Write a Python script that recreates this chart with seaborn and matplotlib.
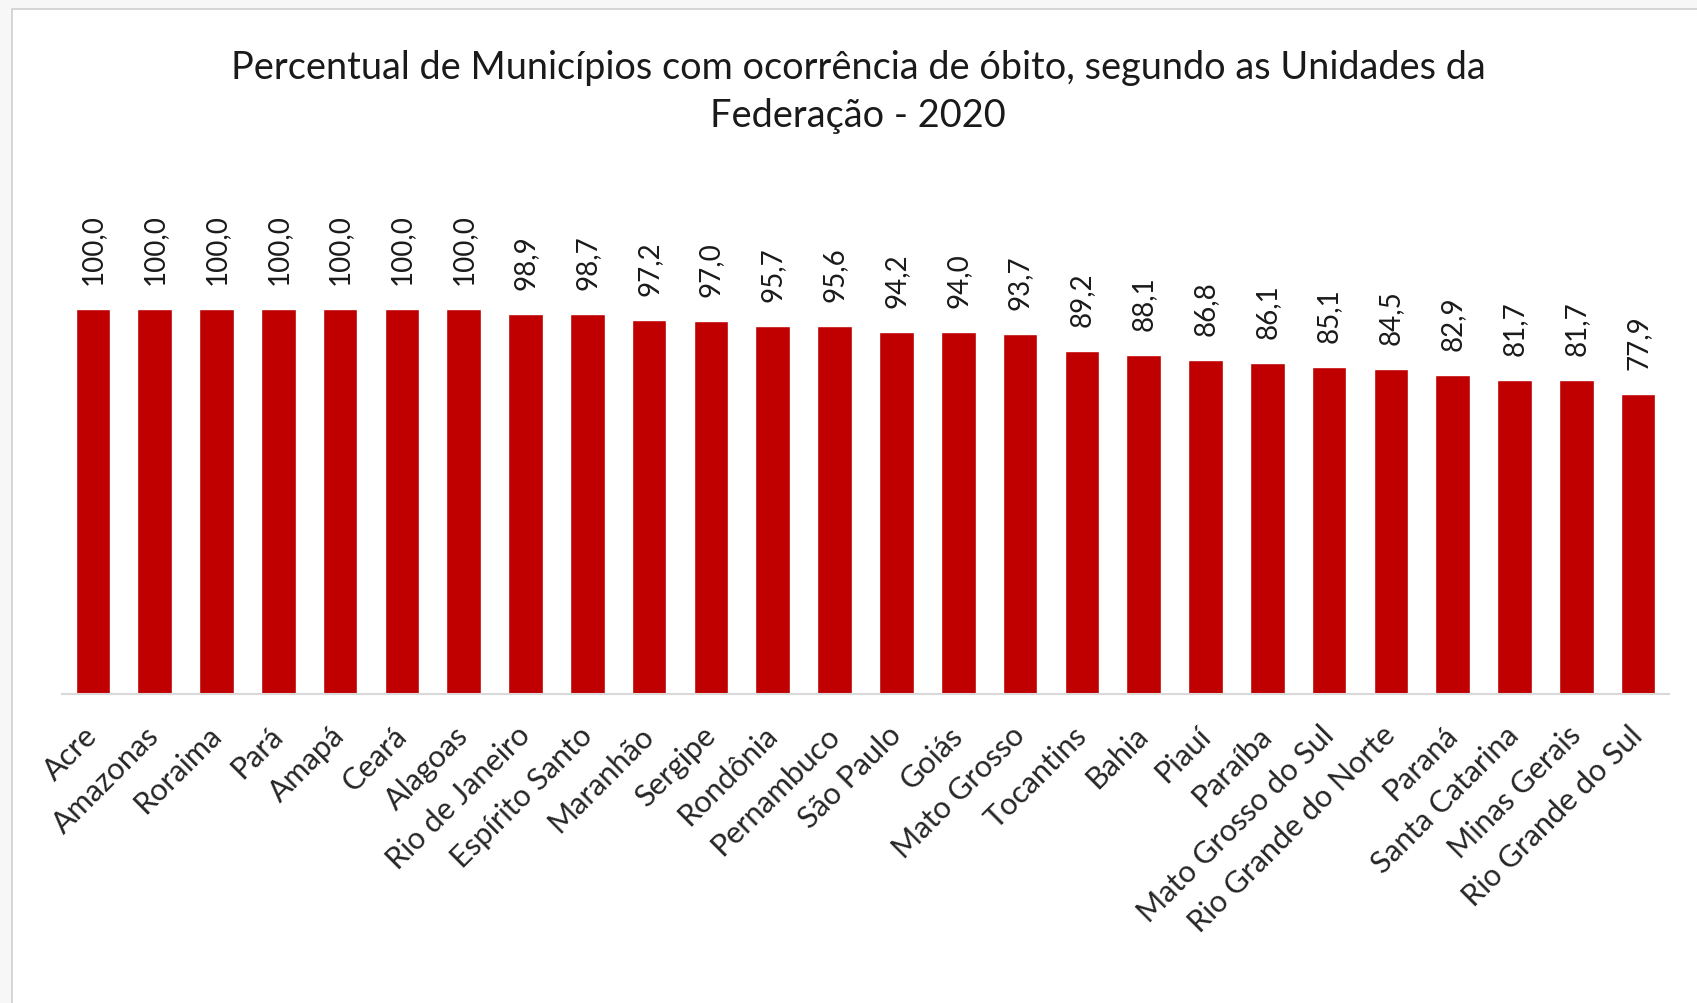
import matplotlib
matplotlib.use("Agg")
import matplotlib.pyplot as plt
from matplotlib.patches import Rectangle
import seaborn as sns
import pandas as pd

estados = [
    "Acre", "Amazonas", "Roraima", "Pará", "Amapá", "Ceará", "Alagoas",
    "Rio de Janeiro", "Espírito Santo", "Maranhão", "Sergipe", "Rondônia",
    "Pernambuco", "São Paulo", "Goiás", "Mato Grosso", "Tocantins", "Bahia",
    "Piauí", "Paraíba", "Mato Grosso do Sul", "Rio Grande do Norte", "Paraná",
    "Santa Catarina", "Minas Gerais", "Rio Grande do Sul",
]
percentual = [
    100.0, 100.0, 100.0, 100.0, 100.0, 100.0, 100.0,
    98.9, 98.7, 97.2, 97.0, 95.7,
    95.6, 94.2, 94.0, 93.7, 89.2, 88.1,
    86.8, 86.1, 85.1, 84.5, 82.9,
    81.7, 81.7, 77.9,
]
titulo = ("Percentual de Municípios com ocorrência de óbito, segundo as Unidades da\n"
          "Federação - 2020")

df = pd.DataFrame({"uf": estados, "pct": percentual})

sns.set_theme(style="white")
plt.rcParams["font.family"] = ["Lato", "DejaVu Sans"]

W, H = 1697, 1004
fig = plt.figure(figsize=(W / 100, H / 100), dpi=100, facecolor="#f7f7f7")

# white chart area with thin grey frame
fig.patches.append(Rectangle((12 / W, -0.05), 1.1, 1 - 10 / H + 0.05,
                             transform=fig.transFigure, facecolor="white",
                             edgecolor="#cfcfcf", linewidth=1.2, zorder=-10))

ax = fig.add_axes([62 / W, 1 - 695 / H, 1607 / W, (695 - 233.5) / H])
ax.set_facecolor("none")
ax.set_zorder(2)

sns.barplot(data=df, x="uf", y="pct", color="#C00000", saturation=1,
            width=0.56, ax=ax)
ax.set_ylim(0, 120)
ax.set_xlim(-0.5, len(estados) - 0.5)

for i, v in enumerate(percentual):
    ax.annotate(f"{v:.1f}".replace(".", ","), (i, v), xytext=(0, 18),
                textcoords="offset points", rotation=90, ha="center",
                va="bottom", fontsize=20, color="#1a1a1a", clip_on=False)

for s in ["top", "right", "left"]:
    ax.spines[s].set_visible(False)
ax.spines["bottom"].set_color("#d9d9d9")
ax.spines["bottom"].set_linewidth(1.5)
ax.set_yticks([])
ax.set_xlabel("")
ax.set_ylabel("")
ax.tick_params(axis="x", length=0, pad=26)
for lab in ax.get_xticklabels():
    lab.set_rotation(45)
    lab.set_ha("right")
    lab.set_va("center")
    lab.set_rotation_mode("anchor")
    lab.set_fontsize(22)
    lab.set_color("#262626")

fig.text(858 / W, 1 - 92 / H, titulo, ha="center", va="center",
         fontsize=27.3, color="#1a1a1a", linespacing=1.4)

fig.savefig("out.png", dpi=100, facecolor=fig.get_facecolor())
